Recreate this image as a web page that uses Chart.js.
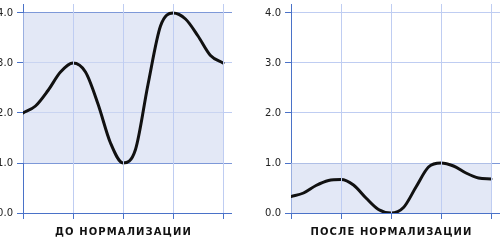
<!DOCTYPE html>
<html>
<head>
<meta charset="utf-8">
<script src="https://cdn.jsdelivr.net/npm/chart.js@4/dist/chart.umd.min.js"></script>
<style>
  html, body { margin: 0; padding: 0; background: #fff; overflow: hidden; }
  body { width: 500px; height: 241px; position: relative; }
  .panel { position: absolute; top: 0; width: 250px; height: 241px; }
</style>
</head>
<body>
<div class="panel" style="left:-18px"><canvas id="before" width="250" height="241"></canvas></div>
<div class="panel" style="left:250px"><canvas id="after" width="250" height="241"></canvas></div>
<script>
const xValues = [0, 0.25, 0.5, 0.75, 1, 1.25, 1.5, 1.75, 2, 2.25, 2.5, 2.75, 3, 3.25, 3.5, 3.75, 4];
const beforeValues = [2.0, 2.14, 2.45, 2.82, 3.0, 2.82, 2.18, 1.4, 1.0, 1.27, 2.57, 3.74, 4.0, 3.88, 3.54, 3.15, 3.0];
const afterValues = [0.33, 0.4, 0.55, 0.65, 0.67, 0.56, 0.3, 0.07, 0.0, 0.11, 0.52, 0.92, 1.0, 0.94, 0.8, 0.7, 0.68];
const beforeRange = [1, 4];
const afterRange = [0, 1];
const xTicks = [0, 1, 2, 3, 4];
const yTicks = [0, 1, 2, 3, 4];
const axisMax = 4.18;
const titles = ["ДО НОРМАЛИЗАЦИИ", "ПОСЛЕ НОРМАЛИЗАЦИИ"];

const AXIS = "#4a72c8";
const GRID = "#bfcdf2";
const BAND_LINE = "#7d98d8";
const BAND_FILL = "rgba(208,217,240,0.6)";

// caption under each plot, spaced out like the original
const bottomTitle = {
  id: "bottomTitle",
  afterDraw(chart, args, opts) {
    const ctx = chart.ctx;
    const x = chart.scales.x;
    const cx = (x.getPixelForValue(xTicks[0]) + x.getPixelForValue(xTicks[xTicks.length - 1])) / 2;
    ctx.save();
    ctx.font = 'bold 10px "DejaVu Sans"';
    ctx.letterSpacing = "1.1px";
    ctx.fillStyle = "#111";
    ctx.textAlign = "center";
    ctx.textBaseline = "alphabetic";
    ctx.fillText(opts.text, cx + 0.5, 235);
    ctx.restore();
  }
};

function makeChart(id, values, range, title) {
  const curve = xValues.map((x, i) => ({x: x, y: values[i]}));
  const top = [{x: xTicks[0], y: range[1]}, {x: xTicks[xTicks.length - 1], y: range[1]}];
  const bottom = [{x: xTicks[0], y: range[0]}, {x: xTicks[xTicks.length - 1], y: range[0]}];
  const yGridColor = ctx => {
    if (!ctx.tick || ctx.tick.value === 0) return "rgba(0,0,0,0)";
    return range.includes(ctx.tick.value) ? BAND_LINE : GRID;
  };
  const xGridColor = ctx => (ctx.tick && ctx.tick.value === 0 ? "rgba(0,0,0,0)" : GRID);
  return new Chart(document.getElementById(id), {
    type: "line",
    data: {
      datasets: [{
        data: curve,
        borderColor: "#111",
        borderWidth: 3,
        fill: false,
        pointRadius: 0,
        cubicInterpolationMode: "monotone",
        borderCapStyle: "round"
      }, {
        data: top,
        borderWidth: 0,
        borderColor: "rgba(0,0,0,0)",
        backgroundColor: BAND_FILL,
        fill: "+1",
        pointRadius: 0
      }, {
        data: bottom,
        borderWidth: 0,
        borderColor: "rgba(0,0,0,0)",
        fill: false,
        pointRadius: 0
      }]
    },
    options: {
      responsive: false,
      devicePixelRatio: 1,
      animation: false,
      layout: {padding: {top: 4, bottom: 22, left: 0, right: 0}},
      plugins: {
        legend: {display: false},
        tooltip: {enabled: false},
        bottomTitle: {text: title}
      },
      scales: {
        x: {
          type: "linear",
          min: 0,
          max: axisMax,
          afterBuildTicks(scale) { scale.ticks = xTicks.map(v => ({value: v})); },
          ticks: {display: false},
          grid: {color: xGridColor, tickColor: AXIS, tickLength: 6, z: 1},
          border: {color: AXIS, width: 1, z: 2}
        },
        y: {
          type: "linear",
          min: 0,
          max: axisMax,
          afterBuildTicks(scale) { scale.ticks = yTicks.map(v => ({value: v})); },
          afterFit(scale) {
            scale.width = 41;
            scale.paddingTop = 0;
            scale.paddingBottom = 0;
          },
          ticks: {
            padding: 4,
            color: "#222",
            font: {family: "DejaVu Sans", size: 10},
            callback: v => v.toFixed(1)
          },
          grid: {color: yGridColor, tickColor: AXIS, tickLength: 6},
          border: {color: AXIS, width: 1}
        }
      }
    },
    plugins: [bottomTitle]
  });
}

makeChart("before", beforeValues, beforeRange, titles[0]);
makeChart("after", afterValues, afterRange, titles[1]);
</script>
</body>
</html>
